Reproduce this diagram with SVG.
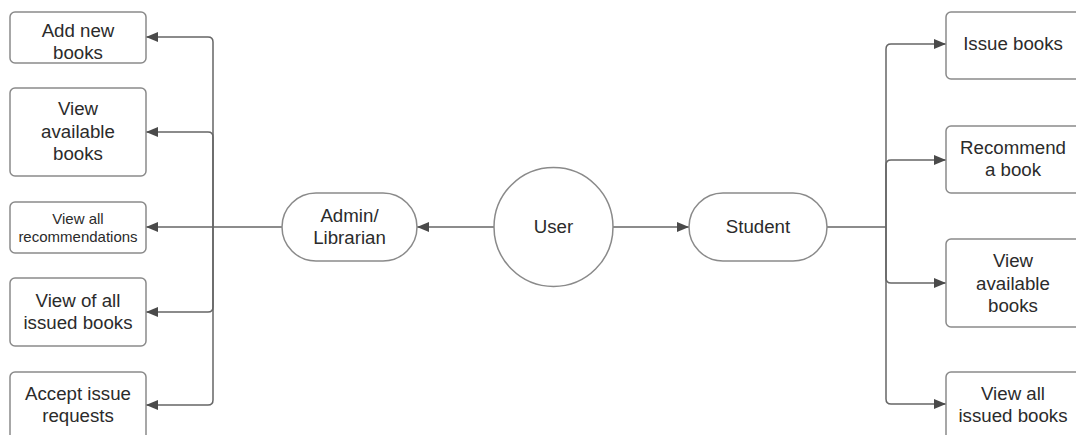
<svg xmlns="http://www.w3.org/2000/svg" width="1076" height="435" viewBox="0 0 1076 435">
<style>
.box{fill:#fff;stroke:#8a8a8a;stroke-width:1.5}
.t{font-family:"Liberation Sans",Arial,sans-serif;font-size:18.7px;fill:#2b2b2b;text-anchor:middle}
.s{font-size:15px}
.c{fill:none;stroke:#666;stroke-width:1.5}
</style>
<defs>
<marker id="ah" viewBox="0 0 12 10" refX="12" refY="5" markerWidth="12" markerHeight="10" markerUnits="userSpaceOnUse" orient="auto">
<path d="M0,0 L12,5 L0,10 z" fill="#4a4a4a"/>
</marker>
</defs>
<rect width="1076" height="435" fill="#fff"/>
<g id="connectors">
<path class="c" d="M494,227 H417" marker-end="url(#ah)"/>
<path class="c" d="M282,227 H146" marker-end="url(#ah)"/>
<path class="c" d="M213,227 V42 Q213,37 208,37 H146" marker-end="url(#ah)"/>
<path class="c" d="M213,227 V137 Q213,132 208,132 H146" marker-end="url(#ah)"/>
<path class="c" d="M213,227 V307 Q213,312 208,312 H146" marker-end="url(#ah)"/>
<path class="c" d="M213,227 V400 Q213,405 208,405 H146" marker-end="url(#ah)"/>
<path class="c" d="M613,227 H689" marker-end="url(#ah)"/>
<path class="c" d="M827,227 H886"/>
<path class="c" d="M886,227 V49 Q886,44 891,44 H946" marker-end="url(#ah)"/>
<path class="c" d="M886,227 V165 Q886,160 891,160 H946" marker-end="url(#ah)"/>
<path class="c" d="M886,227 V278 Q886,283 891,283 H946" marker-end="url(#ah)"/>
<path class="c" d="M886,227 V399 Q886,404 891,404 H946" marker-end="url(#ah)"/>
</g>
<g id="user"><circle cx="553.5" cy="227" r="59.5" class="box"/><text class="t" x="553.5" y="233">User</text></g>
<g id="admin"><rect class="box" x="282" y="193" width="135" height="68" rx="34"/><text class="t" x="349.5" y="222">Admin/</text><text class="t" x="349.5" y="244">Librarian</text></g>
<g id="student"><rect class="box" x="689" y="193" width="138" height="68" rx="34"/><text class="t" x="758" y="233">Student</text></g>
<g id="add-books"><rect class="box" x="10" y="12" width="136" height="51" rx="5"/><text class="t" x="78" y="37">Add new</text><text class="t" x="78" y="59">books</text></g>
<g id="view-books-admin"><rect class="box" x="10" y="88" width="136" height="88" rx="5"/><text class="t" x="78" y="115">View</text><text class="t" x="78" y="138">available</text><text class="t" x="78" y="160">books</text></g>
<g id="view-recs"><rect class="box" x="10" y="202" width="136" height="51" rx="5"/><text class="t s" x="78" y="224">View all</text><text class="t s" x="78" y="242">recommendations</text></g>
<g id="view-issued-admin"><rect class="box" x="10" y="278" width="136" height="68" rx="5"/><text class="t" x="78" y="307">View of all</text><text class="t" x="78" y="329">issued books</text></g>
<g id="accept-requests"><rect class="box" x="10" y="372" width="136" height="80" rx="5"/><text class="t" x="78" y="400">Accept issue</text><text class="t" x="78" y="422">requests</text></g>
<g id="issue-books"><rect class="box" x="946" y="12" width="140" height="67" rx="5"/><text class="t" x="1013" y="50">Issue books</text></g>
<g id="recommend"><rect class="box" x="946" y="126" width="140" height="67" rx="5"/><text class="t" x="1013" y="154">Recommend</text><text class="t" x="1013" y="176">a book</text></g>
<g id="view-books-student"><rect class="box" x="946" y="239" width="140" height="88" rx="5"/><text class="t" x="1013" y="267">View</text><text class="t" x="1013" y="290">available</text><text class="t" x="1013" y="312">books</text></g>
<g id="view-issued-student"><rect class="box" x="946" y="372" width="140" height="80" rx="5"/><text class="t" x="1013" y="400">View all</text><text class="t" x="1013" y="422">issued books</text></g>
</svg>
